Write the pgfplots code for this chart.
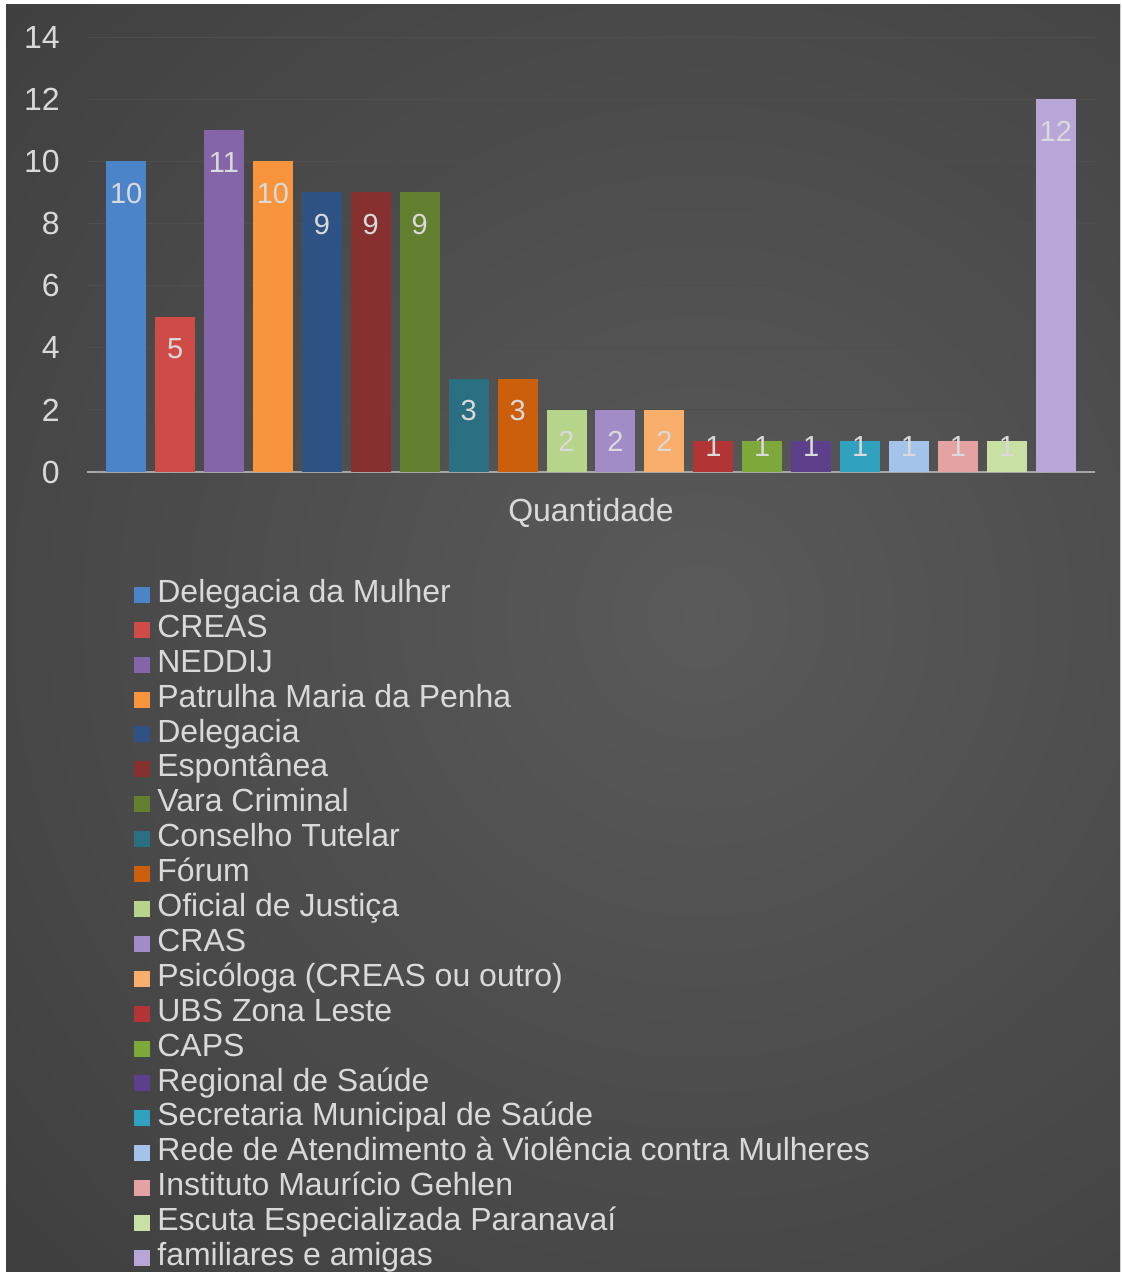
\documentclass[border=0pt]{standalone}
\usepackage{pgfplots}
\pgfplotsset{compat=1.18}
\usepackage{fontspec}
\setmainfont{Liberation Sans}
\definecolor{bgin}{HTML}{5A5A5A}
\definecolor{bgout}{HTML}{272727}
\definecolor{gridc}{HTML}{4E4E4E}
\definecolor{axc}{HTML}{A6A6A6}
\definecolor{tickc}{HTML}{D9D9D9}
\definecolor{labc}{HTML}{DADADA}
\definecolor{c1}{HTML}{4C84C9}
\definecolor{c2}{HTML}{CE4B47}
\definecolor{c3}{HTML}{8465AA}
\definecolor{c4}{HTML}{F8943C}
\definecolor{c5}{HTML}{2E5283}
\definecolor{c6}{HTML}{86302F}
\definecolor{c7}{HTML}{62802F}
\definecolor{c8}{HTML}{2A6F82}
\definecolor{c9}{HTML}{CC5F0B}
\definecolor{c10}{HTML}{B6D58A}
\definecolor{c11}{HTML}{A28CC8}
\definecolor{c12}{HTML}{F9AE6C}
\definecolor{c13}{HTML}{B23434}
\definecolor{c14}{HTML}{7EA83A}
\definecolor{c15}{HTML}{5E3F8C}
\definecolor{c16}{HTML}{31A1C0}
\definecolor{c17}{HTML}{A3C3EA}
\definecolor{c18}{HTML}{E5A2A2}
\definecolor{c19}{HTML}{C9E0A4}
\definecolor{c20}{HTML}{B9A6D8}
\begin{document}
\begin{tikzpicture}
\fill[white] (0,0) rectangle (561pt,638pt);
\useasboundingbox (0,0) rectangle (561pt,638pt);
\begin{scope}
\clip (3pt,2pt) rectangle (560pt,635.5pt);
\fill[bgout] (0,0) rectangle (561pt,638pt);
\shade[inner color=bgin, outer color=bgout] (350pt,330pt) circle (900pt);
\end{scope}
\begin{axis}[
  at={(43.5pt,402pt)}, anchor=south west,
  scale only axis, width=504pt, height=217.5pt,
  xmin=-0.8, xmax=19.8, ymin=0, ymax=14,
  ybar, bar width=20pt,
  /pgf/number format/assume math mode=true,
  ytick={0,2,...,14},
  xtick={9.5}, xticklabels={Quantidade},
  ymajorgrids, grid style={color=gridc, line width=0.5pt},
  axis x line*=bottom, axis y line*=left,
  y axis line style={draw=none},
  x axis line style={color=axc, line width=1pt},
  major tick length=0pt, tick style={draw=none},
  yticklabel style={font=\fontsize{16}{19}\selectfont, text=tickc, inner sep=0pt, anchor=east, xshift=-13.5pt},
  xticklabel style={font=\fontsize{16}{19}\selectfont, text=tickc, inner sep=0pt, anchor=north, yshift=-13pt},
  legend style={at={(0.0466,-0.2414)}, anchor=north west, draw=none, fill=none,
    font=\fontsize{16}{19}\selectfont, text=tickc, cells={anchor=west},
    row sep=0pt, column sep=3.5pt, inner sep=0pt,
    nodes={inner sep=0pt, text height=12.5pt, text depth=4.95pt}},
  legend image code/.code={\fill[#1, draw=none] (0pt,-4pt) rectangle (8pt,4pt);},
  nodes near coords,
  every node near coord/.append style={anchor=center, font=\fontsize{14.5}{17}\selectfont, text=labc},
  dn/.style={every node near coord/.append style={yshift=-16pt}},
  up/.style={every node near coord/.append style={yshift=-3pt}},
]
\addplot[fill=c1, draw=none, bar shift=0pt, dn] coordinates {(0,10)};
\addlegendentry{Delegacia da Mulher}
\addplot[fill=c2, draw=none, bar shift=0pt, dn] coordinates {(1,5)};
\addlegendentry{CREAS}
\addplot[fill=c3, draw=none, bar shift=0pt, dn] coordinates {(2,11)};
\addlegendentry{NEDDIJ}
\addplot[fill=c4, draw=none, bar shift=0pt, dn] coordinates {(3,10)};
\addlegendentry{Patrulha Maria da Penha}
\addplot[fill=c5, draw=none, bar shift=0pt, dn] coordinates {(4,9)};
\addlegendentry{Delegacia}
\addplot[fill=c6, draw=none, bar shift=0pt, dn] coordinates {(5,9)};
\addlegendentry{Espontânea}
\addplot[fill=c7, draw=none, bar shift=0pt, dn] coordinates {(6,9)};
\addlegendentry{Vara Criminal}
\addplot[fill=c8, draw=none, bar shift=0pt, dn] coordinates {(7,3)};
\addlegendentry{Conselho Tutelar}
\addplot[fill=c9, draw=none, bar shift=0pt, dn] coordinates {(8,3)};
\addlegendentry{Fórum}
\addplot[fill=c10, draw=none, bar shift=0pt, dn] coordinates {(9,2)};
\addlegendentry{Oficial de Justiça}
\addplot[fill=c11, draw=none, bar shift=0pt, dn] coordinates {(10,2)};
\addlegendentry{CRAS}
\addplot[fill=c12, draw=none, bar shift=0pt, dn] coordinates {(11,2)};
\addlegendentry{Psicóloga (CREAS ou outro)}
\addplot[fill=c13, draw=none, bar shift=0pt, up] coordinates {(12,1)};
\addlegendentry{UBS Zona Leste}
\addplot[fill=c14, draw=none, bar shift=0pt, up] coordinates {(13,1)};
\addlegendentry{CAPS}
\addplot[fill=c15, draw=none, bar shift=0pt, up] coordinates {(14,1)};
\addlegendentry{Regional de Saúde}
\addplot[fill=c16, draw=none, bar shift=0pt, up] coordinates {(15,1)};
\addlegendentry{Secretaria Municipal de Saúde}
\addplot[fill=c17, draw=none, bar shift=0pt, up] coordinates {(16,1)};
\addlegendentry{Rede de Atendimento à Violência contra Mulheres}
\addplot[fill=c18, draw=none, bar shift=0pt, up] coordinates {(17,1)};
\addlegendentry{Instituto Maurício Gehlen}
\addplot[fill=c19, draw=none, bar shift=0pt, up] coordinates {(18,1)};
\addlegendentry{Escuta Especializada Paranavaí}
\addplot[fill=c20, draw=none, bar shift=0pt, dn] coordinates {(19,12)};
\addlegendentry{familiares e amigas}
\end{axis}
\end{tikzpicture}
\end{document}
